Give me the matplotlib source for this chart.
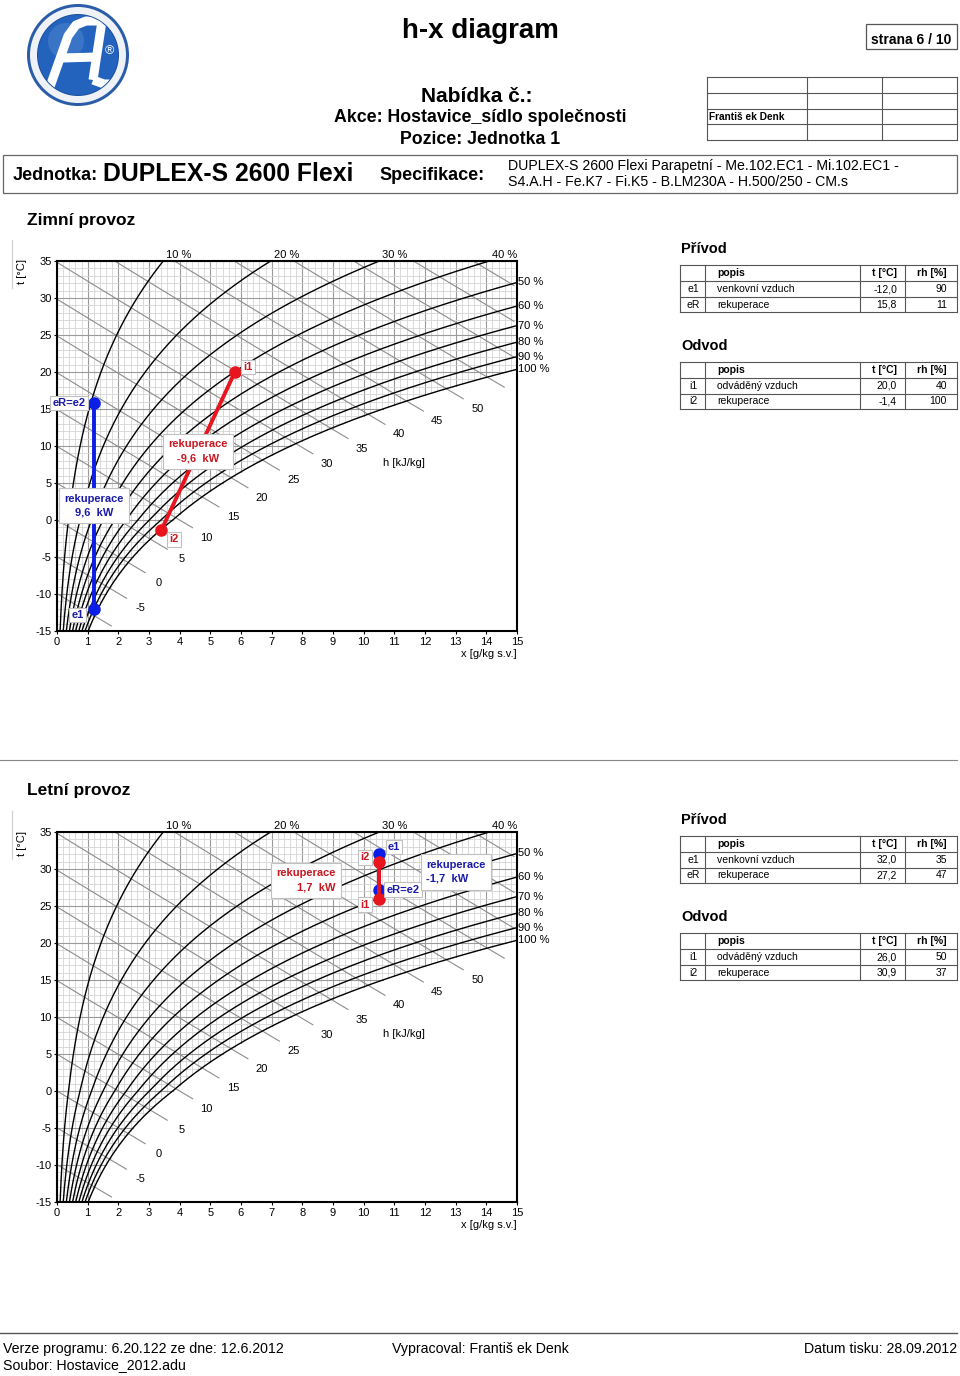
import numpy as np
import matplotlib
matplotlib.use('Agg')
import matplotlib.pyplot as plt
from matplotlib.patches import Circle, Rectangle

plt.rcParams['font.family'] = ['Liberation Sans', 'DejaVu Sans']
plt.rcParams['axes.unicode_minus'] = False

# relative humidity curves [%] and enthalpy lines [kJ/kg]
rh_curves = [10, 20, 30, 40, 50, 60, 70, 80, 90, 100]
h_lines = list(range(-10, 75, 5))
h_labels = list(range(-5, 55, 5))
x_ticks = list(range(0, 16))
t_ticks = list(range(-15, 40, 5))

# winter operation (Zimni provoz)
w_ids = ['e1', 'eR', 'i1', 'i2']
w_names = ['e1', 'eR=e2', 'i1', 'i2']
w_desc = ['venkovní vzduch', 'rekuperace', 'odváděný vzduch', 'rekuperace']
w_t = [-12.0, 15.8, 20.0, -1.4]
w_rh = [90, 11, 40, 100]
w_x = [1.2, 1.2, 5.8, 3.4]
w_power = [9.6, -9.6]  # supply, exhaust

# summer operation (Letni provoz)
s_ids = ['e1', 'eR', 'i1', 'i2']
s_names = ['e1', 'eR=e2', 'i1', 'i2']
s_desc = ['venkovní vzduch', 'rekuperace', 'odváděný vzduch', 'rekuperace']
s_t = [32.0, 27.2, 26.0, 30.9]
s_rh = [35, 47, 50, 37]
s_x = [10.5, 10.5, 10.5, 10.5]
s_power = [-1.7, 1.7]

BLUE = '#0a1ee6'
RED = '#e8141e'
TBLUE = '#1a1aa8'
TRED = '#c81820'
P = 101.325


def p_sat(t):
    t = np.asarray(t, dtype=float)
    water = 0.6112 * np.exp(17.62 * t / (243.12 + t))
    ice = 0.6112 * np.exp(22.46 * t / (272.62 + t))
    return np.where(t < 0, ice, water)


def x_of(t, phi):
    ps = p_sat(t)
    return 622.0 * phi * ps / (P - phi * ps)


def t_of_h(h, x):
    return (h - 2.501 * x) / (1.005 + 0.00186 * x)


tt = np.linspace(-30, 45, 3000)
xs_sat = x_of(tt, 1.0)


def t_sat(x):
    return np.interp(x, xs_sat, tt)


def x_sat(t):
    return np.interp(t, tt, xs_sat)


def fmt(v, d=1):
    return f'{v:.{d}f}'.replace('.', ',')


def draw_chart(ax, ids, names, t, x, power, label_offs, power_offs):
    ax.set_xlim(0, 15)
    ax.set_ylim(-15, 35)
    # grid only above saturation
    for xv in np.arange(0, 15.001, 0.2):
        major = abs(xv - round(xv)) < 1e-6
        t0 = max(-15, float(t_sat(xv)))
        ax.plot([xv, xv], [t0, 35], color='#9a9a9a' if major else '#d4d4d4',
                lw=0.8 if major else 0.6, zorder=1)
    for tv in range(-15, 36):
        major = tv % 5 == 0
        x1 = min(15, float(x_sat(tv)))
        ax.plot([0, x1], [tv, tv], color='#9a9a9a' if major else '#d4d4d4',
                lw=0.8 if major else 0.6, zorder=1)

    # enthalpy lines
    xx = np.linspace(0, 30, 6000)
    for h in h_lines:
        if t_of_h(h, 0) <= 35:
            xa = 0.0
        else:
            xa = 1000 * (h - 1.005 * 35) / (2501 + 1.86 * 35)
        diff = t_of_h(h, xx) - t_sat(xx)
        xe = xx[np.argmax(diff < 0)] + 0.55
        xe = min(xe, 14.9)
        seg = np.linspace(xa, xe, 50)
        ax.plot(seg, t_of_h(h, seg), color='#8c8c8c', lw=0.8, zorder=2)
        if h in h_labels:
            ax.annotate(str(h), (xe, t_of_h(h, xe)), xytext=(14, -10),
                        textcoords='offset pixels', ha='center', va='center',
                        fontsize=8, zorder=6)

    # relative humidity curves
    tc = np.linspace(-15, 35, 400)
    for rh in rh_curves:
        xc = x_of(tc, rh / 100)
        ax.plot(xc, tc, color='black', lw=1.0, zorder=3)
        x35 = float(x_of(35, rh / 100))
        if x35 <= 15:
            ax.annotate(f'{rh} %', (x35, 35), xytext=(3, 1), textcoords='offset pixels',
                        ha='left', va='bottom', fontsize=8, annotation_clip=False)
        else:
            t15 = float(np.interp(15, xc, tc))
            ax.annotate(f'{rh} %', (15, t15), xytext=(1, 0), textcoords='offset pixels',
                        ha='left', va='center', fontsize=8, annotation_clip=False)

    ax.text(0.754, 0.454, 'h [kJ/kg]', transform=ax.transAxes, ha='center',
            va='center', fontsize=8)
    ax.text(1.0, -0.062, 'x [g/kg s.v.]', transform=ax.transAxes, ha='right',
            va='center', fontsize=8)

    # supply (blue) and exhaust (red) processes
    ax.plot([x[0], x[1]], [t[0], t[1]], color=BLUE, lw=2.8, zorder=7,
            marker='o', ms=8, solid_capstyle='round')
    ax.plot([x[2], x[3]], [t[2], t[3]], color=RED, lw=2.8, zorder=8,
            marker='o', ms=8, solid_capstyle='round')

    for i in range(4):
        col = TBLUE if ids[i].startswith('e') else TRED
        ax.annotate(names[i], (x[i], t[i]), xytext=label_offs[i], textcoords='offset pixels',
                    ha='center', va='center', fontsize=8, fontweight='bold', color=col,
                    bbox=dict(boxstyle='square,pad=0.2', fc='white', ec='#c0c0c0', lw=0.8),
                    zorder=9, annotation_clip=False)

    mids = [((x[0] + x[1]) / 2, (t[0] + t[1]) / 2), ((x[2] + x[3]) / 2, (t[2] + t[3]) / 2)]
    cols = [TBLUE, TRED]
    for k in range(2):
        ax.annotate(f'rekuperace\n{fmt(power[k])}  kW', mids[k], xytext=power_offs[k][:2],
                    textcoords='offset pixels', ha='center', va='center',
                    multialignment=power_offs[k][2], fontsize=8, fontweight='bold',
                    color=cols[k], linespacing=1.5, zorder=10 + k,
                    bbox=dict(boxstyle='square,pad=0.5', fc='white', ec='#c0c0c0', lw=0.8))

    for sp in ax.spines.values():
        sp.set_linewidth(1.5)
        sp.set_color('black')
    ax.set_xticks(x_ticks)
    ax.set_yticks(t_ticks)
    ax.tick_params(length=2, pad=2, labelsize=8)
    ax.set_facecolor('white')


def draw_table(page, y0, title, rows):
    page.text(681, y0 - 16, title, fontsize=10.5, fontweight='bold', va='center')
    cols = [680, 705, 860, 905, 957]
    ys = [y0, y0 + 16, y0 + 32, y0 + 47]
    for y in ys:
        page.plot([cols[0], cols[-1]], [y, y], color='#555555', lw=0.8)
    for c in cols:
        page.plot([c, c], [ys[0], ys[-1]], color='#555555', lw=0.8)
    page.text(717, y0 + 8, 'popis', fontsize=7.5, fontweight='bold', va='center')
    page.text(897, y0 + 8, 't [°C]', fontsize=7.5, fontweight='bold', va='center', ha='right')
    page.text(947, y0 + 8, 'rh [%]', fontsize=7.5, fontweight='bold', va='center', ha='right')
    for r, (pid, desc, tv, rh) in enumerate(rows):
        yc = y0 + 24 + 15.5 * r
        page.text(693, yc, pid, fontsize=7.5, va='center', ha='center')
        page.text(717, yc, desc, fontsize=7.5, va='center')
        page.text(897, yc, fmt(tv), fontsize=7.5, va='center', ha='right')
        page.text(947, yc, str(rh), fontsize=7.5, va='center', ha='right')


fig = plt.figure(figsize=(9.6, 13.76), dpi=100)
page = fig.add_axes([0, 0, 1, 1])
page.set_xlim(0, 960)
page.set_ylim(1376, 0)
page.axis('off')

# logo
cx, cy = 78, 55
page.add_patch(Circle((cx, cy), 51, fc='#2b5ca8', ec='none'))
page.add_patch(Circle((cx, cy), 48, fc='#eef1f5', ec='none'))
page.add_patch(Circle((cx, cy), 41, fc='#1b4f9e', ec='none'))
inner = Circle((cx, cy), 40, fc='#2463bd', ec='none')
page.add_patch(inner)
page.add_patch(Circle((cx - 12, cy - 14), 18, fc='#4f86d0', ec='none', alpha=0.5))
for seg in [[(46, 98), (68, 36), (76, 25), (86, 21), (102, 21)], [(102, 21), (93, 80)],
            [(62, 58), (97, 57)], [(93, 80), (104, 84), (130, 84)]]:
    ln, = page.plot(*zip(*seg), color='white', lw=6.5, solid_capstyle='butt',
                    solid_joinstyle='round')
    ln.set_clip_path(inner)
page.text(109, 51, '®', color='white', fontsize=9, ha='center', va='center')

# header
page.text(480, 31, 'h-x diagram', fontsize=20, fontweight='bold', ha='center', va='center')
page.add_patch(Rectangle((866, 24), 91, 25, fc='none', ec='#555555', lw=0.9))
page.text(911, 40, 'strana 6 / 10', fontsize=10, fontweight='bold', ha='center', va='center')
page.text(477, 96, 'Nabídka č.:', fontsize=15, fontweight='bold', ha='center', va='center')
page.text(480, 118, 'Akce: Hostavice_sídlo společnosti', fontsize=12.8, fontweight='bold',
          ha='center', va='center')
page.text(480, 140, 'Pozice: Jednotka 1', fontsize=12.8, fontweight='bold', ha='center', va='center')
for y in [77, 93, 109, 124, 140]:
    page.plot([707, 957], [y, y], color='#555555', lw=0.8)
for xv in [707, 807, 882, 957]:
    page.plot([xv, xv], [77, 140], color='#555555', lw=0.8)
page.text(709, 117, 'Františ ek Denk', fontsize=7.3, fontweight='bold', va='center')

page.add_patch(Rectangle((3, 155), 954, 38, fc='none', ec='#666666', lw=0.9))
page.text(13, 175, 'Jednotka:', fontsize=13, fontweight='bold', va='center')
page.text(103, 174, 'DUPLEX-S 2600 Flexi', fontsize=17.8, fontweight='bold', va='center')
page.text(379, 175, 'Specifikace:', fontsize=13, fontweight='bold', va='center')
page.text(508, 166, 'DUPLEX-S 2600 Flexi Parapetní - Me.102.EC1 - Mi.102.EC1 -', fontsize=10.2, va='center')
page.text(508, 182, 'S4.A.H - Fe.K7 - Fi.K5 - B.LM230A - H.500/250 - CM.s', fontsize=10.2, va='center')

# sections
sections = [
    (0, 'Zimní provoz', w_ids, w_names, w_desc, w_t, w_rh, w_x, w_power,
     [(-16, -6), (-25, 0), (13, 5), (13, -9)], [(0, 0, 'center'), (0, 0, 'center')]),
    (571, 'Letní provoz', s_ids, s_names, s_desc, s_t, s_rh, s_x, s_power,
     [(15, 7), (24, 0), (-14, -6), (-14, 5)], [(77, 0, 'left'), (-73, 0, 'right')]),
]
for off, title, ids, names, desc, t, rh, x, power, loffs, poffs in sections:
    page.text(27, 220 + off, title, fontsize=12.5, fontweight='bold', va='center')
    page.plot([12, 12], [240 + off, 288 + off], color='#d0d0d0', lw=0.8)
    page.text(22, 272 + off, 't [°C]', fontsize=8, rotation=90, ha='center', va='center')
    ax = fig.add_axes([57 / 960, 1 - (631 + off) / 1376, 460 / 960, 370 / 1376])
    draw_chart(ax, ids, names, t, x, power, loffs, poffs)
    draw_table(page, 265 + off, 'Přívod',
               [(ids[i], desc[i], t[i], rh[i]) for i in (0, 1)])
    draw_table(page, 362 + off, 'Odvod',
               [(ids[i], desc[i], t[i], rh[i]) for i in (2, 3)])

page.plot([0, 957], [760, 760], color='#888888', lw=0.8)

# footer
page.plot([0, 957], [1333, 1333], color='#555555', lw=1.0)
page.text(3, 1349, 'Verze programu: 6.20.122 ze dne: 12.6.2012', fontsize=10.2, va='center')
page.text(3, 1365, 'Soubor: Hostavice_2012.adu', fontsize=10.2, va='center')
page.text(392, 1349, 'Vypracoval: Františ ek Denk', fontsize=10.2, va='center')
page.text(957, 1349, 'Datum tisku: 28.09.2012', fontsize=10.2, va='center', ha='right')

fig.savefig('out.png', dpi=100)
